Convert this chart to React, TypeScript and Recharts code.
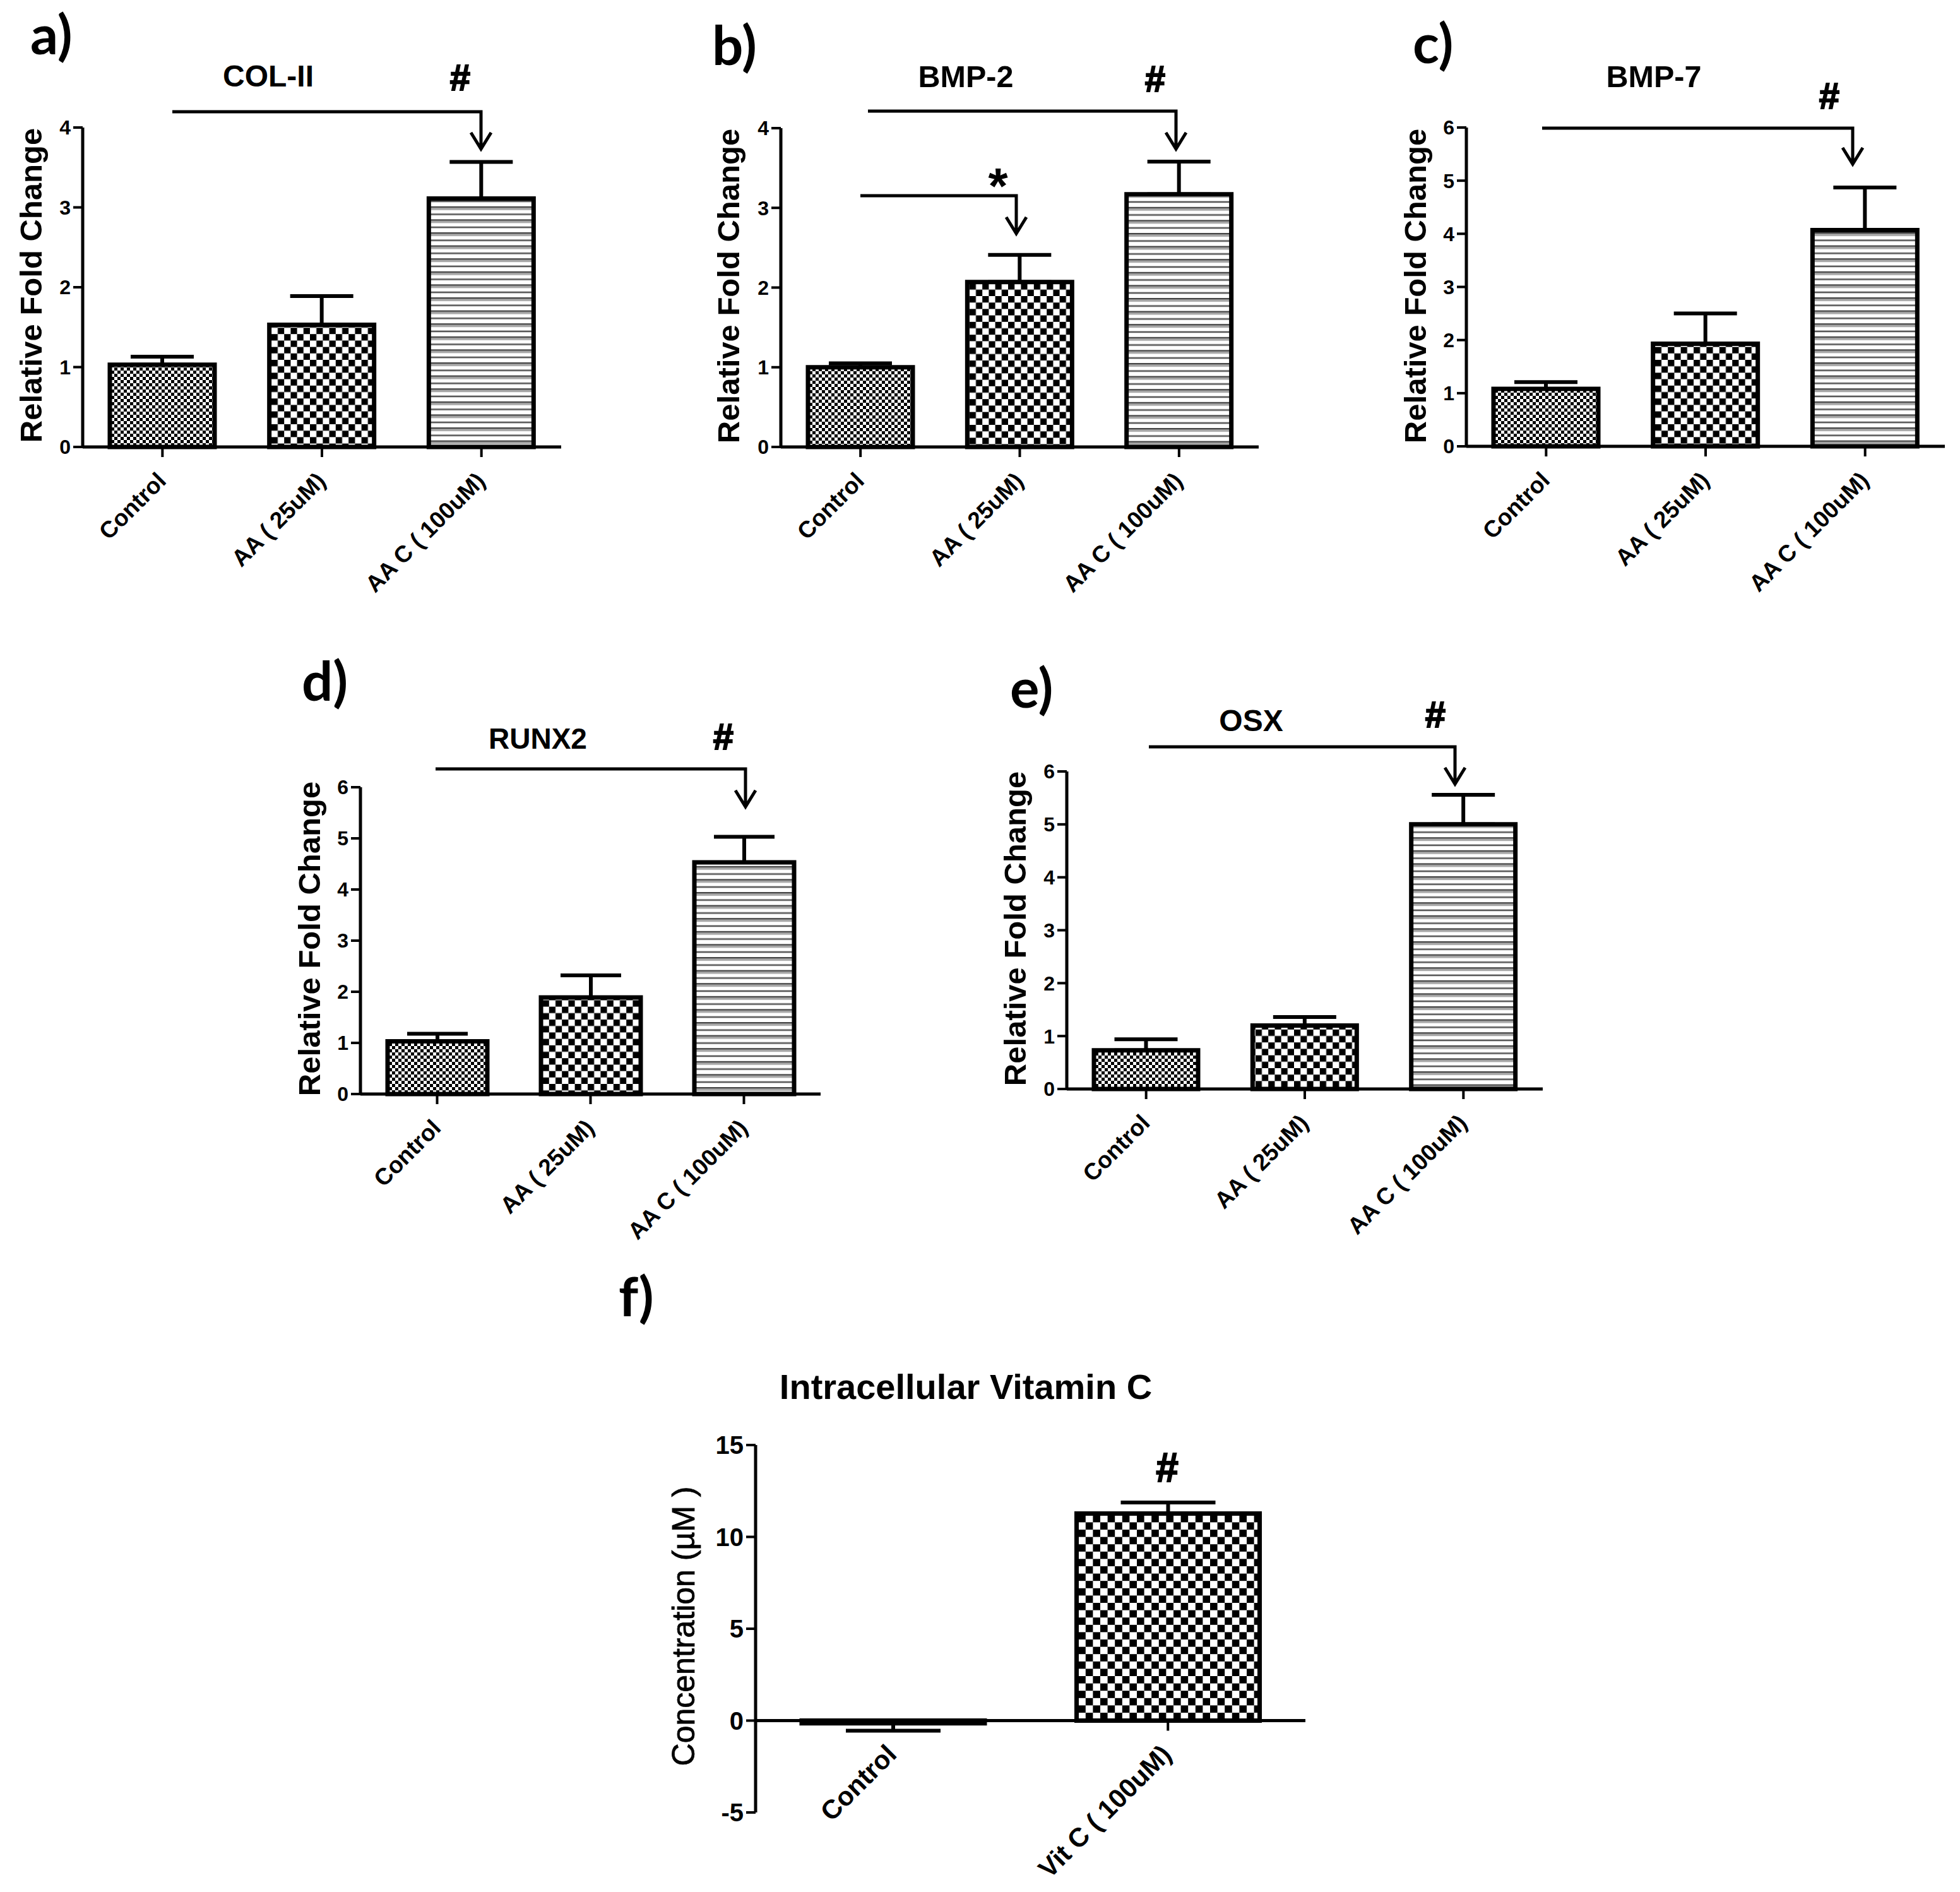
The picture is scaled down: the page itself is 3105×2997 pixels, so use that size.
import React from "react";
import { BarChart, Bar, XAxis, YAxis, Cell, ErrorBar, Label, ReferenceLine } from "recharts";

// ---- data ----
const aaCategories = ["Control", "AA ( 25uM)", "AA C ( 100uM)"];
const vitCategories = ["Control", "Vit C ( 100uM)"];

const colValues = [1.03, 1.53, 3.11];
const colErrors = [0.1, 0.36, 0.46];
const bmp2Values = [1.0, 2.07, 3.17];
const bmp2Errors = [0.05, 0.34, 0.41];
const bmp7Values = [1.08, 1.93, 4.07];
const bmp7Errors = [0.13, 0.57, 0.8];
const runxValues = [1.03, 1.89, 4.53];
const runxErrors = [0.15, 0.43, 0.5];
const osxValues = [0.73, 1.2, 5.0];
const osxErrors = [0.21, 0.16, 0.56];
const vitValues = [-0.15, 11.27];
const vitLowErrors = [0.4, 0];
const vitHighErrors = [0, 0.6];

const foldTicks3 = [0, 1, 2, 3, 4];
const foldTicks5 = [0, 1, 2, 3, 4, 5, 6];
const concTicks = [-5, 0, 5, 10, 15];

const FONT = "'Liberation Sans', Arial, sans-serif";

const rows = (cats: string[], vals: number[], lo: number[], hi: number[]) =>
  cats.map((category, i) => ({ category, value: vals[i], err: [lo[i], hi[i]] }));
const zeros = [0, 0, 0];

// ---- panel layout (page pixels) ----
const panels = [
  { key: "a", data: rows(aaCategories, colValues, zeros, colErrors), left: 131, right: 889, top: 202, bottom: 708, ticks: foldTicks3, fills: ["fine", "mid", "stripe"], barW: 166, cap: 50, yLabel: "Relative Fold Change", lx: 66, ly: 452 },
  { key: "b", data: rows(aaCategories, bmp2Values, zeros, bmp2Errors), left: 1237, right: 1994, top: 203, bottom: 708, ticks: foldTicks3, fills: ["fine", "mid", "stripe"], barW: 166, cap: 50, yLabel: "Relative Fold Change", lx: 1171, ly: 453 },
  { key: "c", data: rows(aaCategories, bmp7Values, zeros, bmp7Errors), left: 2323, right: 3081, top: 202, bottom: 707, ticks: foldTicks5, fills: ["fine", "mid", "stripe"], barW: 166, cap: 50, yLabel: "Relative Fold Change", lx: 2259, ly: 453 },
  { key: "d", data: rows(aaCategories, runxValues, zeros, runxErrors), left: 571, right: 1300, top: 1247, bottom: 1733, ticks: foldTicks5, fills: ["fine", "mid", "stripe"], barW: 158, cap: 48, yLabel: "Relative Fold Change", lx: 507, ly: 1487 },
  { key: "e", data: rows(aaCategories, osxValues, zeros, osxErrors), left: 1690, right: 2444, top: 1222, bottom: 1725, ticks: foldTicks5, fills: ["fine", "mid", "stripe"], barW: 165, cap: 50, yLabel: "Relative Fold Change", lx: 1625, ly: 1471 },
  { key: "f", data: rows(vitCategories, vitValues, vitLowErrors, vitHighErrors), left: 1197, right: 2068, top: 2289, bottom: 2871, ticks: concTicks, fills: ["big", "big"], barW: 290, cap: 75, yLabel: "Concentration (µM )", lx: 1100, ly: 2576 },
];

const panelLetters = [
  { t: "a)", x: 48, y: 86 },
  { t: "b)", x: 1128, y: 103 },
  { t: "c)", x: 2238, y: 100 },
  { t: "d)", x: 478, y: 1110 },
  { t: "e)", x: 1600, y: 1121 },
  { t: "f)", x: 980, y: 2085 },
];
const titles = [
  { t: "COL-II", x: 425, y: 137, s: 48, w: 0 },
  { t: "BMP-2", x: 1530, y: 138, s: 48.5, w: 0 },
  { t: "BMP-7", x: 2620, y: 138, s: 48.5, w: 0 },
  { t: "RUNX2", x: 852, y: 1186, s: 46, w: 0 },
  { t: "OSX", x: 1982, y: 1158, s: 48, w: 0 },
  { t: "Intracellular Vitamin C", x: 1530, y: 2216, s: 56, w: 0 },
  { t: "#", x: 729, y: 143, s: 58, w: 2 },
  { t: "#", x: 1830, y: 145, s: 58, w: 2 },
  { t: "#", x: 2898, y: 172, s: 58, w: 2 },
  { t: "#", x: 1146, y: 1187, s: 58, w: 2 },
  { t: "#", x: 2274, y: 1152, s: 58, w: 2 },
  { t: "#", x: 1849, y: 2347, s: 64, w: 2 },
  { t: "*", x: 1581, y: 322, s: 80, w: 0 },
];
const brackets = [
  { x1: 273, x2: 762, y: 177, tip: 236 },
  { x1: 1375, x2: 1863, y: 176, tip: 236 },
  { x1: 1363, x2: 1610, y: 310, tip: 370 },
  { x1: 2443, x2: 2935, y: 203, tip: 260 },
  { x1: 690, x2: 1181, y: 1218, tip: 1278 },
  { x1: 1820, x2: 2305, y: 1183, tip: 1242 },
];

const PAD_L = 150;
const PAD_T = 40;
const PAD_R = 20;
const PAD_B = 240;

function Checker({ id, cell }: { id: string; cell: number }) {
  return (
    <pattern id={id} patternUnits="userSpaceOnUse" width={cell * 2} height={cell * 2}>
      <rect width={cell * 2} height={cell * 2} fill="#fff" />
      <rect width={cell} height={cell} fill="#000" />
      <rect x={cell} y={cell} width={cell} height={cell} fill="#000" />
    </pattern>
  );
}

function Panel({ p }: { p: (typeof panels)[number] }) {
  const plotW = p.right - p.left;
  const plotH = p.bottom - p.top;
  const min = p.ticks[0];
  const max = p.ticks[p.ticks.length - 1];
  const zeroY = PAD_T + (plotH * max) / (max - min);
  const big = p.key === "f";
  const tickFont = big ? 40 : 32;
  const catFont = big ? 42 : 37;
  const CatTick = (props: any) => {
    const { x, payload } = props;
    return (
      <g>
        <line x1={x} x2={x} y1={zeroY} y2={zeroY + 16} stroke="#000" strokeWidth={4} />
        <text
          transform={`rotate(-45 ${x + 8} ${zeroY + 56})`}
          x={x + 8}
          y={zeroY + 56}
          textAnchor="end"
          fontFamily={FONT}
          fontWeight={700}
          fontSize={catFont}
          fill="#000"
        >
          {payload.value}
        </text>
      </g>
    );
  };
  const lx = p.lx - p.left + PAD_L;
  const ly = p.ly - p.top + PAD_T;
  return (
    <div style={{ position: "absolute", left: p.left - PAD_L, top: p.top - PAD_T }}>
      <BarChart
        width={plotW + PAD_L + PAD_R}
        height={plotH + PAD_T + PAD_B}
        data={p.data}
        margin={{ top: PAD_T, right: PAD_R, left: 0, bottom: 0 }}
        barSize={p.barW}
      >
        <XAxis
          dataKey="category"
          height={PAD_B}
          interval={0}
          tick={<CatTick />}
          tickLine={false}
          axisLine={min === 0 ? { stroke: "#000", strokeWidth: 5 } : false}
        />
        <YAxis
          width={PAD_L}
          domain={[min, max]}
          ticks={p.ticks}
          interval={0}
          tickSize={15}
          tickMargin={4}
          axisLine={{ stroke: "#000", strokeWidth: 5 }}
          tickLine={{ stroke: "#000", strokeWidth: 4 }}
          tick={{ fill: "#000", fontSize: tickFont, fontWeight: 700, fontFamily: FONT }}
        >
          <Label
            content={() => (
              <text
                transform={`rotate(-90 ${lx} ${ly})`}
                x={lx}
                y={ly}
                textAnchor="middle"
                fontFamily={FONT}
                fontWeight={big ? 400 : 700}
                fontSize={big ? 50 : 49}
                stroke={big ? "#000" : "none"}
                strokeWidth={big ? 0.8 : 0}
                fill="#000"
              >
                {p.yLabel}
              </text>
            )}
          />
        </YAxis>
        {min < 0 && <ReferenceLine y={0} stroke="#000" strokeWidth={5} />}
        <Bar dataKey="value" stroke="#000" strokeWidth={7} isAnimationActive={false}>
          {p.data.map((d, i) => (
            <Cell key={d.category} fill={`url(#${p.fills[i]})`} />
          ))}
          <ErrorBar dataKey="err" width={p.cap} stroke="#000" strokeWidth={6} isAnimationActive={false} />
        </Bar>
      </BarChart>
    </div>
  );
}

export default function App() {
  return (
    <div style={{ position: "absolute", left: 0, top: 0, width: 3105, height: 2997, background: "#fff", overflow: "hidden" }}>
      {panels.map((p) => (
        <Panel key={p.key} p={p} />
      ))}
      <svg width={3105} height={2997} style={{ position: "absolute", left: 0, top: 0, pointerEvents: "none" }}>
        <defs>
          <Checker id="fine" cell={5} />
          <Checker id="mid" cell={10.2} />
          <Checker id="big" cell={11.6} />
          <pattern id="stripe" patternUnits="userSpaceOnUse" width={20.6} height={20.6}>
            <rect width={20.6} height={20.6} fill="#fff" />
            <rect y={0} width={20.6} height={2.6} fill="#444" />
            <rect y={2.6} width={20.6} height={3.4} fill="#a8a8a8" />
            <rect y={11.4} width={20.6} height={2.6} fill="#555" />
          </pattern>
        </defs>
        {panelLetters.map((l) => (
          <text key={l.t} x={l.x} y={l.y} fontFamily="Lato, sans-serif" fontWeight={700} fontSize={87} fill="#000">
            {l.t}
          </text>
        ))}
        {titles.map((t, i) => (
          <text key={i} x={t.x} y={t.y} textAnchor="middle" fontFamily={FONT} fontWeight={700} fontSize={t.s} fill="#000" stroke={t.w ? "#000" : "none"} strokeWidth={t.w}>
            {t.t}
          </text>
        ))}
        {brackets.map((b, i) => (
          <path
            key={i}
            d={`M${b.x1} ${b.y}H${b.x2}V${b.tip}M${b.x2 - 16} ${b.tip - 26}L${b.x2} ${b.tip}L${b.x2 + 16} ${b.tip - 26}`}
            fill="none"
            stroke="#000"
            strokeWidth={5}
          />
        ))}
      </svg>
    </div>
  );
}
